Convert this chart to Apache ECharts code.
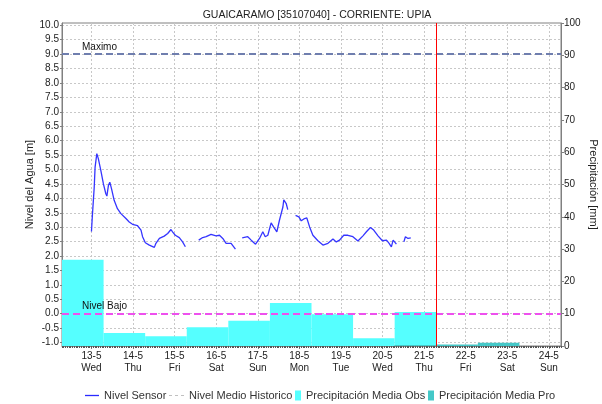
<!DOCTYPE html>
<html>
<head>
<meta charset="utf-8">
<script src="https://cdn.jsdelivr.net/npm/echarts@6/dist/echarts.min.js"></script>
<style>
  html, body { margin: 0; padding: 0; background: #ffffff; }
  #chart { width: 602px; height: 404px; }
</style>
</head>
<body>
<div id="chart"></div>
<script>
// Station and reference levels
const chartTitle = 'GUAICARAMO [35107040] - CORRIENTE: UPIA';
const levelMax = 9.0;      // "Maximo"
const levelLow = 0.0;      // "Nivel Bajo"

// Time is expressed in hours from 13-5 00:00
const axisStartHour = -17;   // 12-5 07:00
const axisEndHour = 271;     // 24-5 07:00
const nowHour = 199;         // 21-5 07:00 (current time marker)

// X tick labels (one per day, at midnight)
const dayLabels = ['13-5', '14-5', '15-5', '16-5', '17-5', '18-5', '19-5', '20-5', '21-5', '22-5', '23-5', '24-5'];
const weekdayLabels = ['Wed', 'Thu', 'Fri', 'Sat', 'Sun', 'Mon', 'Tue', 'Wed', 'Thu', 'Fri', 'Sat', 'Sun'];

// Left axis tick labels (m)
const levelTicks = [-1.0, -0.5, 0.0, 0.5, 1.0, 1.5, 2.0, 2.5, 3.0, 3.5, 4.0, 4.5, 5.0,
                    5.5, 6.0, 6.5, 7.0, 7.5, 8.0, 8.5, 9.0, 9.5, 10.0];

// Water level from the sensor (null = no data)
const sensorHour = [
  0, 0.6, 1.6, 2.1, 3.1, 4.0, 5.4, 6.9, 8.3, 8.9, 9.8, 10.6, 11.6, 13.1, 15.0, 17.0, 19.9, 21.8, 23.7,
  26.6, 28.6, 29.5, 31.1, 33.4, 36.3, 37.2, 39.2, 42.0, 44.0, 45.9, 46.8, 48.4, 50.7, 52.6, 54.2,
  58,
  61.9, 64.2, 66.2, 69.0, 71.9, 73.9, 75.8, 77.7, 80.6, 83.1,
  85,
  87.0, 90.2, 92.2, 94.7, 97.0, 98.9, 100.3, 101.8, 103.7, 105.1, 107.0, 108.5, 110.5, 111.0, 112.4, 113.3,
  115.5,
  117.8, 119.7, 121.1, 123.0, 124.3, 125.9, 127.8, 130.7, 133.6, 136.5, 139.4, 141.3, 143.2, 145.6,
  148.0, 150.9, 153.8, 156.7, 158.7, 161.0, 162.9, 165.4, 167.9, 170.3, 171.8, 173.1, 174.1, 176.0,
  178,
  180.3, 181.2, 182.7, 184.3
];
const sensorLevel = [
  2.85, 3.47, 4.39, 5.08, 5.55, 5.37, 4.97, 4.50, 4.16, 4.08, 4.45, 4.56, 4.33, 3.93, 3.64, 3.47, 3.30, 3.18, 3.10,
  3.05, 2.90, 2.67, 2.46, 2.38, 2.30, 2.44, 2.61, 2.69, 2.78, 2.92, 2.84, 2.72, 2.64, 2.49, 2.32,
  null,
  2.55, 2.64, 2.67, 2.75, 2.70, 2.72, 2.61, 2.44, 2.44, 2.24,
  null,
  2.63, 2.67, 2.55, 2.41, 2.61, 2.84, 2.67, 2.72, 3.15, 3.01, 2.84, 3.24, 3.70, 3.95, 3.82, 3.61,
  null,
  3.41, 3.36, 3.22, 3.30, 3.32, 3.01, 2.72, 2.53, 2.38, 2.44, 2.59, 2.49, 2.55, 2.72,
  2.72, 2.67, 2.52, 2.70, 2.84, 2.99, 2.90, 2.70, 2.53, 2.55, 2.44, 2.32, 2.55, 2.41,
  null,
  2.49, 2.67, 2.61, 2.63
];

// Daily precipitation (mm), each total runs from 07:00 of the given day of May to 07:00 of the next
const precipObsDay = [12, 13, 14, 15, 16, 17, 18, 19, 20];
const precipObs = [26.7, 4.0, 3.0, 5.8, 7.8, 13.3, 9.8, 2.4, 10.5];
const precipProDay = [20, 21, 22];
const precipPro = [0.3, 0.5, 1.0];

const dayStartHour = (d) => (d - 13) * 24 + 7;
const obsData = precipObsDay.map((d, i) => [dayStartHour(d), dayStartHour(d) + 24, precipObs[i]]);
const proData = precipProDay.map((d, i) => [dayStartHour(d), dayStartHour(d) + 24, precipPro[i]]);
const sensorData = sensorHour.map((h, i) => [h, sensorLevel[i] === null ? '-' : sensorLevel[i]]);
const dayHours = dayLabels.map((_, i) => i * 24);

// Interval bar: spans start..end on the time axis, height on the precipitation axis
function renderInterval(params, api) {
  const top = api.coord([api.value(0), api.value(2)]);
  const base = api.coord([api.value(1), 0]);
  return {
    type: 'rect',
    shape: { x: top[0], y: top[1], width: base[0] - top[0], height: base[1] - top[1] },
    style: { fill: api.visual('color') }
  };
}

const FONT = 'Liberation Sans, Arial, sans-serif';
const gridColor = '#c8c8c8';
const axisColor = '#808080';
const textColor = '#222222';

// Legend glyphs: solid line, dashed line, filled box
const iconSolid = 'path://M0,0h14v1.3h-14z';
const iconDashed = 'path://M0,0h3v1h-3zM6,0h3v1h-3zM12,0h3v1h-3z';

const legendBase = {
  top: 385, itemHeight: 10, selectedMode: false,
  textStyle: { fontSize: 11, color: '#333333', fontFamily: FONT }
};

const option = {
  animation: false,
  textStyle: { fontFamily: FONT },
  title: {
    text: chartTitle, left: 312, top: 5, textAlign: 'center',
    textStyle: { fontSize: 10.5, fontWeight: 'normal', color: textColor, fontFamily: FONT }
  },
  grid: {
    left: 62, right: 41, top: 23, bottom: 58,
    outerBoundsMode: 'none', containLabel: false,
    show: true, borderColor: axisColor, borderWidth: 1, backgroundColor: '#ffffff'
  },
  legend: [
    Object.assign({}, legendBase, { left: 80, itemWidth: 14, data: [{ name: 'Nivel Sensor', icon: iconSolid }] }),
    Object.assign({}, legendBase, { left: 164, itemWidth: 15, data: [{ name: 'Nivel Medio Historico', icon: iconDashed }] }),
    Object.assign({}, legendBase, { left: 290, itemWidth: 6, data: [{ name: 'Precipitación Media Obs', icon: 'rect' }] }),
    Object.assign({}, legendBase, { left: 423, itemWidth: 6, data: [{ name: 'Precipitación Media Pro', icon: 'rect' }] })
  ],
  xAxis: [
    {
      type: 'value', min: axisStartHour, max: axisEndHour,
      axisLine: { show: false, onZero: false },
      axisTick: { show: true, customValues: dayHours, length: 3, lineStyle: { color: axisColor } },
      axisLabel: {
        customValues: dayHours, fontSize: 10, color: textColor, lineHeight: 12, margin: 4,
        formatter: (v) => { const i = Math.round(v / 24); return dayLabels[i] + '\n' + weekdayLabels[i]; }
      },
      splitLine: { show: true, lineStyle: { color: gridColor, type: [2, 2], width: 1 } }
    },
    {
      // hourly minor ticks along the bottom edge
      type: 'value', min: axisStartHour, max: axisEndHour, interval: 1, position: 'bottom',
      axisLine: { show: true, onZero: false, lineStyle: { color: axisColor } },
      axisTick: { show: true, length: 2, lineStyle: { color: '#555555' } },
      axisLabel: { show: false },
      splitLine: { show: false }
    }
  ],
  yAxis: [
    {
      type: 'value', min: -1.12, max: 10.08, position: 'left',
      name: 'Nivel del Agua [m]', nameLocation: 'middle', nameGap: 27, nameMoveOverlap: false,
      nameTextStyle: { fontSize: 11, color: textColor, fontFamily: FONT },
      axisLine: { show: true, onZero: false, lineStyle: { color: axisColor } },
      axisTick: { show: true, customValues: levelTicks, length: 2, lineStyle: { color: axisColor } },
      axisLabel: { customValues: levelTicks, formatter: (v) => v.toFixed(1), fontSize: 10, color: textColor, margin: 3 },
      splitLine: { show: true, lineStyle: { color: gridColor, type: [2, 2], width: 1 } }
    },
    {
      type: 'value', min: 0, max: 100, interval: 10, position: 'right',
      name: 'Precipitación [mm]', nameLocation: 'middle', nameGap: 27, nameRotate: -90, nameMoveOverlap: false,
      nameTextStyle: { fontSize: 11, color: textColor, fontFamily: FONT },
      axisLine: { show: true, onZero: false, lineStyle: { color: axisColor } },
      axisTick: { show: true, length: 3, lineStyle: { color: axisColor } },
      axisLabel: { fontSize: 10, color: textColor, margin: 3 },
      splitLine: { show: false }
    }
  ],
  series: [
    {
      name: 'Precipitación Media Obs', type: 'custom', xAxisIndex: 0, yAxisIndex: 1, z: 1,
      renderItem: renderInterval, encode: { x: [0, 1], y: 2 },
      itemStyle: { color: '#55ffff' }, data: obsData
    },
    {
      name: 'Precipitación Media Pro', type: 'custom', xAxisIndex: 0, yAxisIndex: 1, z: 1,
      renderItem: renderInterval, encode: { x: [0, 1], y: 2 },
      itemStyle: { color: '#44c8c8' }, data: proData
    },
    {
      name: 'Nivel Medio Historico', type: 'line', xAxisIndex: 0, yAxisIndex: 0, z: 3,
      symbol: 'none', lineStyle: { color: '#c0c0c0', type: [3, 3], width: 1 }, itemStyle: { color: '#c0c0c0' },
      data: []
    },
    {
      name: 'Nivel Sensor', type: 'line', xAxisIndex: 0, yAxisIndex: 0, z: 4,
      symbol: 'none', showSymbol: false, connectNulls: false,
      lineStyle: { color: '#3535ff', width: 1.3 }, itemStyle: { color: '#2a2aff' },
      data: sensorData,
      markLine: {
        silent: true, symbol: 'none', animation: false,
        data: [
          {
            yAxis: levelMax,
            lineStyle: { color: '#6f7eae', type: [7, 4], width: 2 },
            label: { show: true, formatter: 'Maximo', position: 'insideStartTop', distance: [20, 2], fontSize: 10, color: '#111111', fontFamily: FONT }
          },
          {
            yAxis: levelLow,
            lineStyle: { color: '#ee50ee', type: [7, 4], width: 2 },
            label: { show: true, formatter: 'Nivel Bajo', position: 'insideStartTop', distance: [20, 2], fontSize: 10, color: '#111111', fontFamily: FONT }
          },
          {
            xAxis: nowHour,
            lineStyle: { color: '#ff0000', type: 'solid', width: 1 },
            label: { show: false }
          }
        ]
      }
    }
  ]
};

const chart = echarts.init(document.getElementById('chart'), null, { renderer: 'canvas' });
chart.setOption(option);
</script>
</body>
</html>
